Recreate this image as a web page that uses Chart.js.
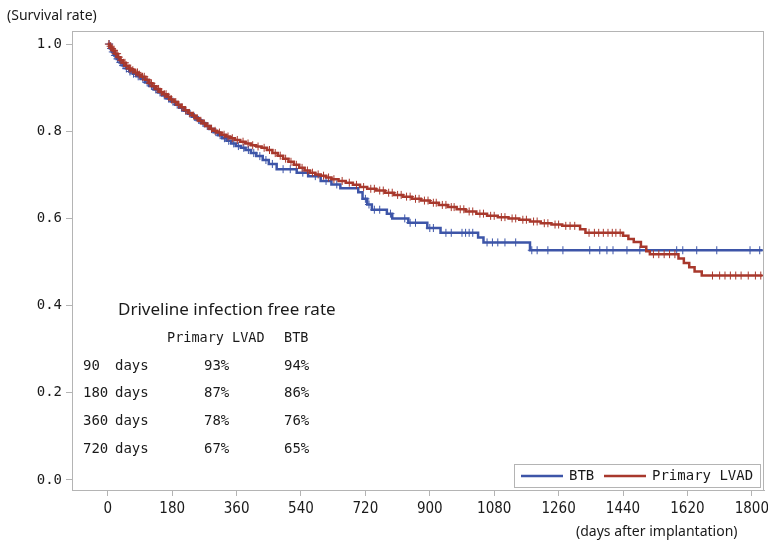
<!DOCTYPE html>
<html>
<head>
<meta charset="utf-8">
<script src="https://cdn.jsdelivr.net/npm/chart.js@4/dist/chart.umd.min.js"></script>
<style>
  html, body { margin: 0; padding: 0; background: #fff; }
  #wrap { width: 768px; height: 543px; position: relative; }
</style>
</head>
<body>
<div id="wrap"><canvas id="kmChart" width="768" height="543"></canvas></div>
<script>
// Kaplan-Meier: days after implantation -> driveline infection free rate
const xTicks = [0, 180, 360, 540, 720, 900, 1080, 1260, 1440, 1620, 1800];
const yTicks = [0, 0.2, 0.4, 0.6, 0.8, 1.0];

// Primary LVAD (event times, survival after each event)
const lvadDays = [0, 5, 10, 15, 20, 28, 35, 42, 50, 58, 66, 75, 85, 95, 105, 115, 125, 135, 145, 155,
  165, 175, 185, 195, 205, 215, 225, 235, 245, 255, 265, 275, 285, 295, 305, 318, 330, 342, 355, 370,
  385, 400, 415, 430, 445, 460, 475, 490, 505, 520, 535, 550, 565, 580, 595, 610, 625, 645, 665, 685,
  705, 725, 750, 775, 800, 825, 850, 875, 900, 925, 950, 975, 1000, 1030, 1060, 1090, 1120, 1150, 1180, 1210,
  1240, 1270, 1320, 1335, 1440, 1455, 1470, 1490, 1505, 1515, 1595, 1610, 1625, 1640, 1660, 1830];
const lvadSurv = [1.000, 0.995, 0.990, 0.985, 0.978, 0.970, 0.963, 0.957, 0.950, 0.944, 0.940, 0.935, 0.930, 0.925, 0.918, 0.910, 0.903, 0.897, 0.890, 0.885,
  0.879, 0.873, 0.867, 0.861, 0.855, 0.848, 0.842, 0.836, 0.830, 0.824, 0.818, 0.812, 0.806, 0.801, 0.797, 0.792, 0.788, 0.784, 0.780, 0.776,
  0.772, 0.768, 0.765, 0.762, 0.757, 0.750, 0.744, 0.737, 0.730, 0.723, 0.716, 0.710, 0.705, 0.701, 0.698, 0.694, 0.690, 0.686, 0.682, 0.677,
  0.672, 0.668, 0.664, 0.659, 0.654, 0.650, 0.645, 0.641, 0.636, 0.631, 0.626, 0.621, 0.616, 0.611, 0.606, 0.603, 0.600, 0.597, 0.593, 0.589,
  0.586, 0.583, 0.575, 0.567, 0.560, 0.553, 0.546, 0.535, 0.525, 0.518, 0.508, 0.498, 0.488, 0.478, 0.469, 0.469];
const lvadCensored = [3, 8, 12, 17, 22, 26, 31, 37, 44, 48, 53, 60, 64, 70, 78, 83, 88, 97, 102, 110,
  118, 122, 130, 138, 142, 150, 158, 163, 170, 178, 190, 198, 208, 218, 228, 240, 250, 260, 270, 280,
  290, 300, 312, 325, 336, 348, 362, 378, 392, 405, 420, 437, 452, 468, 482, 497, 512, 527, 543, 558,
  572, 588, 603, 617, 632, 655, 675, 695, 715, 735, 745, 760, 770, 785, 795, 810, 820, 835, 845, 860,
  870, 885, 895, 910, 918, 935, 945, 960, 968, 985, 995, 1010, 1020, 1040, 1050, 1070, 1080, 1100, 1110, 1130,
  1140, 1160, 1170, 1190, 1200, 1220, 1230, 1250, 1260, 1280, 1292, 1305, 1345, 1360, 1372, 1385, 1398, 1410, 1420, 1432,
  1525, 1540, 1555, 1570, 1585, 1690, 1710, 1725, 1740, 1755, 1770, 1790, 1810, 1825];

// BTB
const btbDays = [0, 6, 12, 18, 25, 33, 41, 50, 60, 70, 80, 92, 104, 116, 128, 140, 152, 164, 176, 188,
  200, 212, 224, 236, 248, 260, 272, 284, 296, 308, 320, 332, 345, 358, 372, 385, 400, 415, 433, 450,
  472, 528, 560, 595, 625, 650, 700, 712, 725, 738, 780, 795, 840, 893, 930, 1035, 1050, 1180, 1830];
const btbSurv = [1.000, 0.990, 0.982, 0.974, 0.966, 0.958, 0.951, 0.944, 0.937, 0.932, 0.926, 0.920, 0.912, 0.904, 0.896, 0.889, 0.882, 0.875, 0.868, 0.861,
  0.854, 0.847, 0.840, 0.833, 0.826, 0.819, 0.812, 0.805, 0.798, 0.791, 0.784, 0.778, 0.772, 0.766, 0.762, 0.757, 0.750, 0.743, 0.734, 0.725,
  0.713, 0.705, 0.697, 0.686, 0.678, 0.669, 0.660, 0.645, 0.632, 0.620, 0.611, 0.600, 0.590, 0.578, 0.567, 0.556, 0.545, 0.527, 0.527];
const btbCensored = [4, 9, 14, 20, 27, 35, 43, 52, 62, 72, 85, 98, 110, 122, 134, 146, 158, 170, 182, 194,
  206, 218, 230, 242, 254, 266, 278, 290, 302, 314, 326, 338, 352, 365, 380, 393, 408, 425, 442, 460,
  490, 510, 545, 580, 610, 640, 720, 730, 745, 760, 790, 830, 845, 860, 900, 910, 945, 960, 990, 1000,
  1010, 1020, 1060, 1075, 1090, 1110, 1140, 1185, 1200, 1230, 1272, 1347, 1375, 1395, 1412, 1451, 1487, 1590, 1607, 1646,
  1702, 1795, 1822];

// inset table
const tableTitle = 'Driveline infection free rate';
const tableHeader = ['Primary LVAD', 'BTB'];
const tableDays = ['90', '180', '360', '720'];
const tablePrimary = ['93%', '87%', '78%', '67%'];
const tableBTB = ['94%', '86%', '76%', '65%'];

const blue = '#3d55a8';
const red = '#a8382c';
const ink = '#1a1a1a';
const mono = '"DejaVu Sans Mono", "Liberation Mono", monospace';

function curve(days, surv) {
  return days.map((d, i) => ({ x: d, y: surv[i] }));
}
function survAt(days, surv, t) {
  let v = surv[0];
  for (let i = 0; i < days.length; i++) { if (days[i] <= t) v = surv[i]; }
  return v;
}
function marks(cens, days, surv) {
  return cens.map(t => ({ x: t, y: survAt(days, surv, t) }));
}

const extras = {
  id: 'extras',
  afterDraw(chart) {
    const { ctx, chartArea: a } = chart;
    ctx.save();
    // box round the plot
    ctx.strokeStyle = '#b4b4b4';
    ctx.lineWidth = 1;
    ctx.strokeRect(a.left + 0.5, a.top + 0.5, a.right - a.left - 1, a.bottom - a.top);

    // axis captions
    ctx.fillStyle = ink;
    ctx.font = '14px "Noto Sans", sans-serif';
    ctx.textBaseline = 'middle';
    ctx.textAlign = 'left';
    ctx.fillText('(Survival rate)', 7, 16);
    ctx.fillText('(days after implantation)', 576, 532);

    // table
    ctx.font = '17px "Noto Sans", sans-serif';
    ctx.fillText(tableTitle, 118, 310);
    ctx.font = '13.5px ' + mono;
    ctx.fillText(tableHeader[0], 167, 338);
    ctx.fillText(tableHeader[1], 284, 338);
    ctx.font = '14px ' + mono;
    const rowY = [366, 393, 421, 449];
    tableDays.forEach((d, i) => {
      ctx.fillText(d, 83, rowY[i]);
      ctx.fillText('days', 115, rowY[i]);
      ctx.fillText(tablePrimary[i], 204, rowY[i]);
      ctx.fillText(tableBTB[i], 284, rowY[i]);
    });

    // legend
    const lx = 514, ly = 464, lw = 246, lh = 23;
    ctx.fillStyle = '#fff';
    ctx.fillRect(lx, ly, lw, lh);
    ctx.strokeStyle = '#b4b4b4';
    ctx.lineWidth = 1;
    ctx.strokeRect(lx + 0.5, ly + 0.5, lw, lh);
    const items = [
      { label: chart.data.datasets[2].label, color: blue, x: 521 },
      { label: chart.data.datasets[0].label, color: red, x: 604 }
    ];
    ctx.font = '14px ' + mono;
    items.forEach(it => {
      ctx.strokeStyle = it.color;
      ctx.lineWidth = 2.5;
      ctx.beginPath();
      ctx.moveTo(it.x, ly + lh / 2 + 0.5);
      ctx.lineTo(it.x + 42, ly + lh / 2 + 0.5);
      ctx.stroke();
      ctx.fillStyle = ink;
      ctx.fillText(it.label, it.x + 48, ly + lh / 2 + 1);
    });
    ctx.restore();
  }
};

new Chart(document.getElementById('kmChart'), {
  type: 'scatter',
  data: {
    datasets: [
      {
        label: 'Primary LVAD',
        data: curve(lvadDays, lvadSurv),
        showLine: true,
        stepped: 'before',
        borderColor: red,
        borderWidth: 2.5,
        pointRadius: 0
      },
      {
        label: 'Primary LVAD censored',
        data: marks(lvadCensored, lvadDays, lvadSurv),
        showLine: false,
        pointStyle: 'cross',
        pointRadius: 4,
        borderColor: red,
        borderWidth: 1
      },
      {
        label: 'BTB',
        data: curve(btbDays, btbSurv),
        showLine: true,
        stepped: 'before',
        borderColor: blue,
        borderWidth: 2.5,
        pointRadius: 0
      },
      {
        label: 'BTB censored',
        data: marks(btbCensored, btbDays, btbSurv),
        showLine: false,
        pointStyle: 'cross',
        pointRadius: 4,
        borderColor: blue,
        borderWidth: 1
      }
    ]
  },
  options: {
    responsive: false,
    animation: false,
    layout: { autoPadding: false, padding: { left: 0, top: 31, right: 4, bottom: 0 } },
    plugins: {
      legend: { display: false },
      tooltip: { enabled: false }
    },
    scales: {
      x: {
        type: 'linear',
        min: -100,
        max: 1834,
        afterBuildTicks: s => { s.ticks = xTicks.map(v => ({ value: v })); },
        afterFit: s => { s.height = 53; s.paddingLeft = 0; s.paddingRight = 0; },
        grid: { drawOnChartArea: false, color: '#b4b4b4', tickLength: 6 },
        border: { color: '#b4b4b4' },
        ticks: {
          color: ink,
          padding: 4,
          maxRotation: 0,
          font: { family: '"Liberation Sans Narrow", "DejaVu Sans Condensed", sans-serif', size: 15 },
          callback: v => String(v)
        }
      },
      y: {
        type: 'linear',
        min: -0.023,
        max: 1.03,
        afterBuildTicks: s => { s.ticks = yTicks.map(v => ({ value: v })); },
        afterFit: s => { s.width = 72; s.paddingTop = 0; s.paddingBottom = 0; },
        grid: { drawOnChartArea: false, color: '#b4b4b4', tickLength: 6 },
        border: { color: '#b4b4b4' },
        ticks: {
          color: ink,
          padding: 4,
          font: { family: mono, size: 14 },
          callback: v => v.toFixed(1)
        }
      }
    }
  },
  plugins: [extras]
});
</script>
</body>
</html>
